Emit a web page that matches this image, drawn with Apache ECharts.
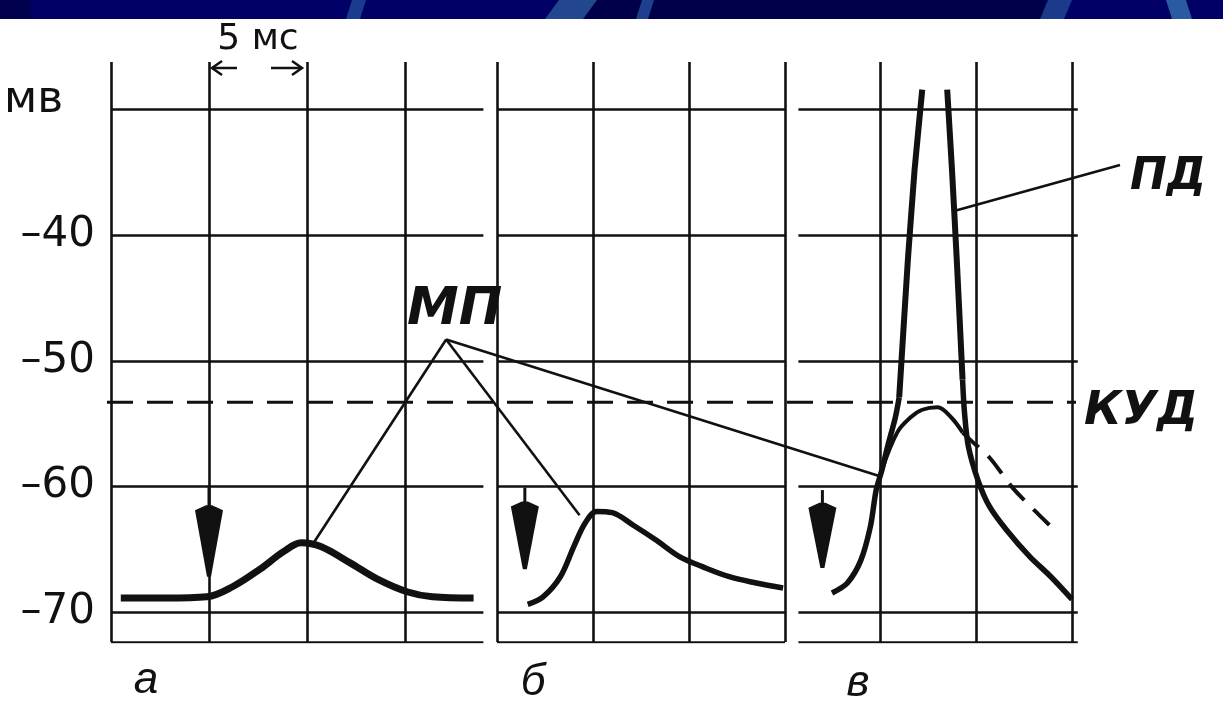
<!DOCTYPE html>
<html><head><meta charset="utf-8">
<script src="https://cdn.jsdelivr.net/npm/echarts@6/dist/echarts.min.js"></script>
<style>html,body{margin:0;padding:0;background:#fff}#c{width:1223px;height:711px}</style>
</head><body><div id="c"></div>
<script>
// ---- scales (mV, ms) ----
const V_MIN = -72.4, V_MAX = -26.2;
const yTickValues = [-70, -60, -50, -40, -30];
const yUnit = 'мв';
const KUD = -53.3;                 // critical depolarisation level
const panelLabels = ['а', 'б', 'в'];
const scaleText = '5 мс';

// panel time ranges (ms) and vertical grid times
const aXMax = 19, bXMax = 15, cXMax = 15.5;
const aVert = [0, 5, 10, 15], bVert = [0, 5, 10, 15], cVert = [5, 10, 15];
const aHor = [0, 19], bHor = [0, 15], cHor = [0.75, 15.3];

// ---- curves ----
const aT = [0.5, 2.8, 4.9, 6.2, 7.6, 8.8, 9.7, 10.7, 12.2, 13.6, 15.1, 16.4, 18.5];
const aV = [-68.9, -68.9, -68.8, -68.0, -66.6, -65.2, -64.5, -64.8, -66.1, -67.4, -68.4, -68.8, -68.9];
const bT = [1.6, 2.4, 3.3, 4.0, 4.6, 5.2, 6.0, 7.1, 8.3, 9.5, 10.7, 12.1, 13.5, 14.9];
const bV = [-69.4, -68.8, -67.2, -64.8, -62.9, -62.0, -62.1, -63.1, -64.3, -65.6, -66.4, -67.2, -67.7, -68.1];
// panel в: rise, action-potential spike (clipped at top), fall
const cRiseT = [2.5, 3.3, 4.0, 4.5, 4.8, 5.1, 5.4, 5.8, 6.0];
const cRiseV = [-68.5, -67.7, -65.9, -63.2, -60.3, -58.7, -56.8, -54.5, -52.9];
const cSpikeUpT = [6.0, 6.45, 6.8, 7.2];
const cSpikeUpV = [-52.9, -42.0, -34.8, -28.4];
const cSpikeDownT = [8.5, 8.75, 9.0, 9.3];
const cSpikeDownV = [-28.4, -34.8, -42.0, -51.5];
const cFallT = [9.3, 9.4, 9.6, 10.1, 10.7, 11.6, 12.8, 13.9, 15.0];
const cFallV = [-51.5, -54.1, -56.8, -59.5, -61.6, -63.5, -65.6, -67.2, -69.0];
const cMpT = [5.1, 5.9, 6.6, 7.2, 8.0, 8.7, 9.3];
const cMpV = [-58.7, -55.7, -54.5, -53.9, -53.7, -54.5, -55.7];
const cDashT = [9.3, 9.7, 10.7, 11.9, 13.1, 14.1];
const cDashV = [-55.7, -56.3, -57.7, -60.1, -62.0, -63.5];

// stimulus arrows: [t, shaftTop, headTop, tip]
const stimA = [[5.0, -60.0, -61.9, -67.2]];
const stimB = [[1.45, -60.1, -61.6, -66.6]];
const stimC = [[2.0, -60.3, -61.7, -66.5]];

// annotation anchor points (panel, t, v)
const mpApex = [0, 17.1, -48.3];
const mpTargets = [[0, 10.3, -64.6], [1, 4.3, -62.3], [2, 5.0, -59.2]];
const pdFrom = [2, 9.0, -38.0];
const pdTo = [2, 17.5, -34.4];

const zip = (t, v) => t.map((x, i) => [x, v[i]]);
const INK = '#111';

function gridLines(hor, vert) {
  const d = [];
  yTickValues.concat([V_MIN]).forEach(v => d.push({coords: [[hor[0], v], [hor[1], v]]}));
  vert.forEach(t => d.push({coords: [[t, V_MIN], [t, V_MAX]]}));
  return d;
}

const chart = echarts.init(document.getElementById('c'), null, {renderer: 'canvas'});
const grids = [
  {left: 111, top: 62, width: aXMax * 19.6, height: 580},
  {left: 497, top: 62, width: bXMax * 19.2, height: 580},
  {left: 784, top: 62, width: cXMax * 19.2, height: 580}
];
const xAxes = [aXMax, bXMax, cXMax].map((mx, i) => ({
  type: 'value', gridIndex: i, min: 0, max: mx, show: false
}));
const yAxes = [0, 1, 2].map(i => ({
  type: 'value', gridIndex: i, min: V_MIN, max: V_MAX, show: i === 0,
  axisLine: {show: false}, axisTick: {show: false}, splitLine: {show: false},
  axisLabel: i === 0 ? {
    show: true, customValues: yTickValues.filter(v => v !== -30), margin: 16,
    fontFamily: 'DejaVu Sans', fontSize: 42, color: INK,
    formatter: v => String(v).replace('-', '–')
  } : {show: false}
}));

function lineSeries(g, data, width, extra) {
  return Object.assign({
    type: 'line', xAxisIndex: g, yAxisIndex: g, data, smooth: 0.35, showSymbol: false,
    silent: true, z: 5, lineStyle: {color: INK, width: width}, animation: false
  }, extra || {});
}
function gridSeries(g, hor, vert) {
  return {type: 'lines', coordinateSystem: 'cartesian2d', xAxisIndex: g, yAxisIndex: g,
    data: gridLines(hor, vert), silent: true, z: 2, animation: false,
    lineStyle: {color: INK, width: 2.6, opacity: 1}};
}
function arrowSeries(g, data) {
  return {type: 'custom', xAxisIndex: g, yAxisIndex: g, data, silent: true, z: 6, animation: false,
    renderItem(params, api) {
      const p0 = api.coord([api.value(0), api.value(1)]);
      const p1 = api.coord([api.value(0), api.value(2)]);
      const p2 = api.coord([api.value(0), api.value(3)]);
      const w = 14;
      return {type: 'group', children: [
        {type: 'line', shape: {x1: p0[0], y1: p0[1], x2: p1[0], y2: p1[1] + 4}, style: {stroke: INK, lineWidth: 3}},
        {type: 'polygon', shape: {points: [[p1[0] - w, p1[1]], [p1[0] - 3, p1[1] - 5], [p1[0] + 3, p1[1] - 5], [p1[0] + w, p1[1]], [p2[0] + 2, p2[1]], [p2[0] - 2, p2[1]]]}, style: {fill: INK}}
      ]};
    }};
}

chart.setOption({
  animation: false,
  backgroundColor: '#fff',
  grid: grids, xAxis: xAxes, yAxis: yAxes,
  series: [
    gridSeries(0, aHor, aVert), gridSeries(1, bHor, bVert), gridSeries(2, cHor, cVert),
    lineSeries(0, zip(aT, aV), 7),
    lineSeries(1, zip(bT, bV), 5.5),
    lineSeries(2, zip(cRiseT, cRiseV), 5.5, {smooth: 0.3}),
    lineSeries(2, zip(cSpikeUpT, cSpikeUpV), 6, {smooth: 0.1}),
    lineSeries(2, zip(cSpikeDownT, cSpikeDownV), 6, {smooth: 0.1}),
    lineSeries(2, zip(cFallT, cFallV), 5.5, {smooth: 0.3}),
    lineSeries(2, zip(cMpT, cMpV), 4),
    lineSeries(2, zip(cDashT, cDashV), 4, {lineStyle: {color: INK, width: 4, type: [22, 13]}}),
    arrowSeries(0, stimA), arrowSeries(1, stimB), arrowSeries(2, stimC)
  ]
});

// ---- annotations positioned through the chart's own scales ----
const px = p => chart.convertToPixel({gridIndex: p[0]}, [p[1], p[2]]);
const apex = px(mpApex);
const kudY = chart.convertToPixel({gridIndex: 0}, [0, KUD])[1];
const x5 = chart.convertToPixel({gridIndex: 0}, [5, V_MAX])[0];
const x10 = chart.convertToPixel({gridIndex: 0}, [10, V_MAX])[0];
const pdA = px(pdFrom), pdB = px(pdTo);
const unitY = chart.convertToPixel({gridIndex: 0}, [0, -30])[1];

const graphic = [];
// banner
graphic.push({type: 'rect', shape: {x: 0, y: 0, width: 1223, height: 19}, style: {fill: '#000066'}, z: 1});
graphic.push({type: 'rect', shape: {x: 585, y: 0, width: 460, height: 19}, style: {fill: '#00004a'}, z: 1});
graphic.push({type: 'rect', shape: {x: 0, y: 0, width: 30, height: 19}, style: {fill: '#00004e'}, z: 1});
[[346, 14, 6, '#1b3b8f'], [545, 38, 14, '#23478f'], [636, 12, 6, '#1d3f8d'], [1040, 24, 8, '#1b3a8a'], [1172, 20, -6, '#2a5aa0']].forEach(s => {
  const [x, w, sl, col] = s;
  graphic.push({type: 'polygon', shape: {points: [[x + sl, 0], [x + sl + w, 0], [x + w, 19], [x, 19]]}, style: {fill: col}, z: 2});
});
// КУД dashed level
graphic.push({type: 'line', shape: {x1: 107, y1: kudY, x2: 1076, y2: kudY}, style: {stroke: INK, lineWidth: 3, lineDash: [26, 14]}, z: 4});
// МП leaders
mpTargets.forEach(t => {
  const p = px(t);
  graphic.push({type: 'line', shape: {x1: apex[0], y1: apex[1], x2: p[0], y2: p[1]}, style: {stroke: INK, lineWidth: 2.6}, z: 7});
});
// ПД leader
graphic.push({type: 'line', shape: {x1: pdA[0], y1: pdA[1], x2: pdB[0], y2: pdB[1]}, style: {stroke: INK, lineWidth: 2.6}, z: 7});
// 5 мс scale bar arrows
graphic.push({type: 'line', shape: {x1: x5 + 3, y1: 68, x2: x5 + 28, y2: 68}, style: {stroke: INK, lineWidth: 2.5}, z: 7});
graphic.push({type: 'polyline', shape: {points: [[x5 + 13, 61], [x5 + 3, 68], [x5 + 13, 75]]}, style: {stroke: INK, lineWidth: 2.5, fill: null}, z: 7});
graphic.push({type: 'line', shape: {x1: x10 - 36, y1: 68, x2: x10 - 5, y2: 68}, style: {stroke: INK, lineWidth: 2.5}, z: 7});
graphic.push({type: 'polyline', shape: {points: [[x10 - 15, 61], [x10 - 5, 68], [x10 - 15, 75]]}, style: {stroke: INK, lineWidth: 2.5, fill: null}, z: 7});
// texts
const txt = (text, x, y, font, align) => graphic.push({type: 'text', x, y, z: 8,
  style: {text, font, fill: INK, textAlign: align || 'left', textVerticalAlign: 'middle'}});
txt(scaleText, (x5 + x10) / 2, 40, '36px "DejaVu Sans"', 'center');
txt(yUnit, 4, unitY - 9, '44px "DejaVu Sans"', 'left');
txt('МП', 407, 310, 'italic bold 52px "DejaVu Sans"');
txt('ПД', 1130, 178, 'italic bold 44px "DejaVu Sans"');
txt('КУД', 1084, 412, 'italic bold 46px "DejaVu Sans"');
txt(panelLabels[0], 146, 681, 'italic 44px "Liberation Sans"', 'center');
txt(panelLabels[1], 533, 683, 'italic 44px "Liberation Sans"', 'center');
txt(panelLabels[2], 858, 684, 'italic 44px "Liberation Sans"', 'center');
chart.setOption({graphic: graphic});
</script></body></html>
